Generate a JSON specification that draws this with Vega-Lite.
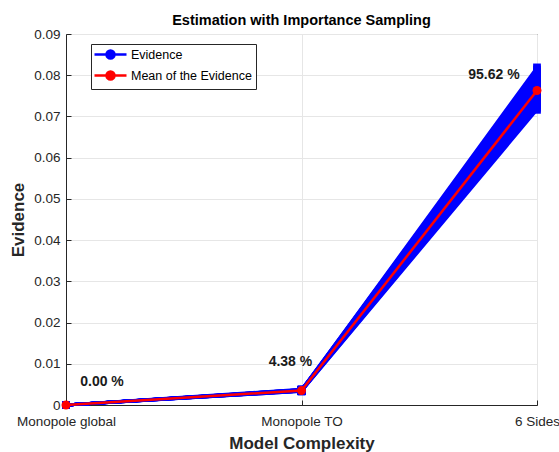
{
  "$schema": "https://vega.github.io/schema/vega-lite/v6.json",
  "width": 471,
  "height": 371,
  "autosize": {"type": "none"},
  "padding": {"left": 66, "top": 34, "right": 22, "bottom": 47},
  "title": {"text": "Estimation with Importance Sampling", "font": "Liberation Sans", "fontSize": 14.5, "fontWeight": "bold", "color": "#000000", "offset": -1, "frame": "group"},
  "config": {
    "view": {"stroke": "#262626", "strokeWidth": 1},
    "axis": {
      "labelFont": "Liberation Sans", "labelFontSize": 13.5, "labelColor": "#262626",
      "titleFont": "Liberation Sans", "titleFontSize": 17, "titleFontWeight": "bold", "titleColor": "#262626",
      "domainColor": "#262626", "tickColor": "#262626", "tickSize": -5, "gridColor": "#e6e6e6"
    }
  },
  "datasets": {
    "samples": [
      {"s": 1, "x": 1, "v": 0}, {"s": 1, "x": 2, "v": 0.0033}, {"s": 1, "x": 3, "v": 0.0716},
      {"s": 2, "x": 1, "v": 0}, {"s": 2, "x": 2, "v": 0.0034}, {"s": 2, "x": 3, "v": 0.0721},
      {"s": 3, "x": 1, "v": 0}, {"s": 3, "x": 2, "v": 0.0036}, {"s": 3, "x": 3, "v": 0.0727},
      {"s": 4, "x": 1, "v": 0}, {"s": 4, "x": 2, "v": 0.0035}, {"s": 4, "x": 3, "v": 0.0732},
      {"s": 5, "x": 1, "v": 0}, {"s": 5, "x": 2, "v": 0.0037}, {"s": 5, "x": 3, "v": 0.0736},
      {"s": 6, "x": 1, "v": 0}, {"s": 6, "x": 2, "v": 0.0034}, {"s": 6, "x": 3, "v": 0.0741},
      {"s": 7, "x": 1, "v": 0}, {"s": 7, "x": 2, "v": 0.0036}, {"s": 7, "x": 3, "v": 0.0745},
      {"s": 8, "x": 1, "v": 0}, {"s": 8, "x": 2, "v": 0.0035}, {"s": 8, "x": 3, "v": 0.0749},
      {"s": 9, "x": 1, "v": 0}, {"s": 9, "x": 2, "v": 0.0038}, {"s": 9, "x": 3, "v": 0.0753},
      {"s": 10, "x": 1, "v": 0}, {"s": 10, "x": 2, "v": 0.0035}, {"s": 10, "x": 3, "v": 0.0757},
      {"s": 11, "x": 1, "v": 0}, {"s": 11, "x": 2, "v": 0.0036}, {"s": 11, "x": 3, "v": 0.0760},
      {"s": 12, "x": 1, "v": 0}, {"s": 12, "x": 2, "v": 0.0034}, {"s": 12, "x": 3, "v": 0.0763},
      {"s": 13, "x": 1, "v": 0}, {"s": 13, "x": 2, "v": 0.0037}, {"s": 13, "x": 3, "v": 0.0766},
      {"s": 14, "x": 1, "v": 0}, {"s": 14, "x": 2, "v": 0.0035}, {"s": 14, "x": 3, "v": 0.0769},
      {"s": 15, "x": 1, "v": 0}, {"s": 15, "x": 2, "v": 0.0036}, {"s": 15, "x": 3, "v": 0.0773},
      {"s": 16, "x": 1, "v": 0}, {"s": 16, "x": 2, "v": 0.0033}, {"s": 16, "x": 3, "v": 0.0777},
      {"s": 17, "x": 1, "v": 0}, {"s": 17, "x": 2, "v": 0.0036}, {"s": 17, "x": 3, "v": 0.0781},
      {"s": 18, "x": 1, "v": 0}, {"s": 18, "x": 2, "v": 0.0035}, {"s": 18, "x": 3, "v": 0.0785},
      {"s": 19, "x": 1, "v": 0}, {"s": 19, "x": 2, "v": 0.0037}, {"s": 19, "x": 3, "v": 0.0789},
      {"s": 20, "x": 1, "v": 0}, {"s": 20, "x": 2, "v": 0.0034}, {"s": 20, "x": 3, "v": 0.0794},
      {"s": 21, "x": 1, "v": 0}, {"s": 21, "x": 2, "v": 0.0036}, {"s": 21, "x": 3, "v": 0.0799},
      {"s": 22, "x": 1, "v": 0}, {"s": 22, "x": 2, "v": 0.0035}, {"s": 22, "x": 3, "v": 0.0804},
      {"s": 23, "x": 1, "v": 0}, {"s": 23, "x": 2, "v": 0.0037}, {"s": 23, "x": 3, "v": 0.0809},
      {"s": 24, "x": 1, "v": 0}, {"s": 24, "x": 2, "v": 0.0035}, {"s": 24, "x": 3, "v": 0.0814},
      {"s": 25, "x": 1, "v": 0}, {"s": 25, "x": 2, "v": 0.0036}, {"s": 25, "x": 3, "v": 0.0819}
    ],
    "mean": [
      {"x": 1, "v": 0}, {"x": 2, "v": 0.0035}, {"x": 3, "v": 0.0763}
    ],
    "labels": [
      {"x": 1.153, "v": 0.0055, "label": "0.00 %"},
      {"x": 1.953, "v": 0.0104, "label": "4.38 %"},
      {"x": 2.817, "v": 0.0800, "label": "95.62 %"}
    ],
    "legend": [
      {"series": "Evidence"}, {"series": "Mean of the Evidence"}
    ]
  },
  "encoding": {
    "x": {
      "field": "x", "type": "quantitative",
      "scale": {"domain": [1, 3], "nice": false, "zero": false},
      "axis": {
        "title": "Model Complexity", "values": [1, 2, 3], "grid": true,
        "labelExpr": "datum.value == 1 ? 'Monopole global' : datum.value == 2 ? 'Monopole TO' : '6 Sides'",
        "labelFlush": false, "labelBound": false, "labelPadding": 14, "titlePadding": 8
      }
    },
    "y": {
      "field": "v", "type": "quantitative",
      "scale": {"domain": [0, 0.09], "nice": false},
      "axis": {
        "title": "Evidence", "values": [0, 0.01, 0.02, 0.03, 0.04, 0.05, 0.06, 0.07, 0.08, 0.09], "grid": true,
        "labelExpr": "datum.value == 0 ? '0' : format(datum.value, '.2f')",
        "labelPadding": 11, "titlePadding": 6
      }
    }
  },
  "layer": [
    {
      "data": {"name": "samples"},
      "mark": {"type": "line", "color": "#0000ff", "strokeWidth": 3, "clip": false},
      "encoding": {"detail": {"field": "s", "type": "nominal"}}
    },
    {
      "data": {"name": "samples"},
      "mark": {"type": "point", "shape": "square", "filled": true, "color": "#0000ff", "size": 60, "opacity": 1, "clip": false}
    },
    {
      "data": {"name": "mean"},
      "mark": {"type": "line", "color": "#ff0000", "strokeWidth": 2.5, "clip": false}
    },
    {
      "data": {"name": "mean"},
      "mark": {"type": "point", "shape": "circle", "filled": true, "color": "#ff0000", "size": 80, "opacity": 1, "clip": false}
    },
    {
      "data": {"name": "labels"},
      "mark": {"type": "text", "font": "Liberation Sans", "fontSize": 14, "fontWeight": "bold", "color": "#1a1a1a", "align": "center", "baseline": "middle"},
      "encoding": {"text": {"field": "label", "type": "nominal"}}
    },
    {
      "data": {"name": "legend"},
      "mark": {"type": "point", "opacity": 0, "filled": true},
      "encoding": {
        "x": {"datum": 1, "type": "quantitative"},
        "y": {"datum": 0, "type": "quantitative"},
        "color": {
          "field": "series", "type": "nominal",
          "scale": {"domain": ["Evidence", "Mean of the Evidence"], "range": ["#0000ff", "#ff0000"]},
          "legend": {
            "title": null, "orient": "none", "legendX": 25, "legendY": 10,
            "symbolType": "M-1.4,0H5M1,0A0.8,0.8 0 1,1 2.6,0A0.8,0.8 0 1,1 1,0",
            "symbolSize": 100, "symbolStrokeWidth": 2.5, "symbolOpacity": 1,
            "labelFont": "Liberation Sans", "labelFontSize": 12.5, "labelColor": "#000000",
            "rowPadding": 2, "labelOffset": 23,
            "strokeColor": "#262626", "fillColor": "#ffffff", "padding": 4,
            "encode": {"symbols": {"update": {
              "fill": {"scale": "color", "field": "value"},
              "stroke": {"scale": "color", "field": "value"},
              "opacity": {"value": 1}
            }}}
          }
        }
      }
    }
  ]
}
